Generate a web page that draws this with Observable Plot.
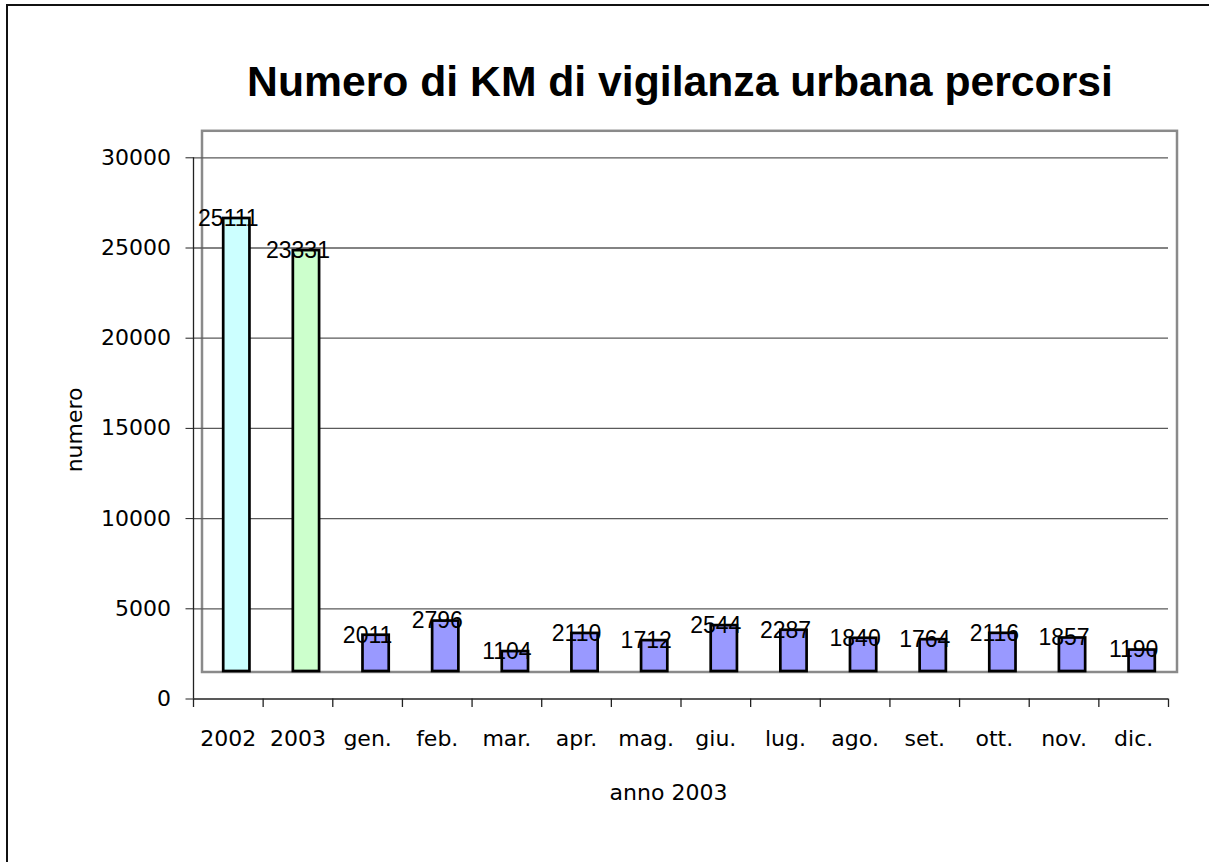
<!DOCTYPE html>
<html>
<head>
<meta charset="utf-8">
<script src="https://cdn.jsdelivr.net/npm/d3@7"></script>
<script src="https://cdn.jsdelivr.net/npm/@observablehq/plot@0.6"></script>
<style>
  html, body { margin: 0; padding: 0; background: #fff; overflow: hidden; }
  #page { position: relative; width: 1209px; height: 862px; overflow: hidden; }
  #border { position: absolute; left: 6px; top: 4px; width: 1400px; height: 1100px; border: 2px solid #111; box-sizing: border-box; }
  #title { position: absolute; left: 0; top: 60px; width: 1360px; text-align: center;
           font-family: "Liberation Sans", Arial, sans-serif; font-weight: bold; font-size: 42.7px; line-height: 42.7px; color: #000; }
  #chart { position: absolute; left: 0; top: 120px; }
</style>
</head>
<body>
<div id="page">
  <div id="border"></div>
  <div id="title">Numero di KM di vigilanza urbana percorsi</div>
  <div id="chart"></div>
</div>
<script>
const categories = ["2002", "2003", "gen.", "feb.", "mar.", "apr.", "mag.", "giu.", "lug.", "ago.", "set.", "ott.", "nov.", "dic."];
const values = [25111, 23331, 2011, 2796, 1104, 2110, 1712, 2544, 2287, 1840, 1764, 2116, 1857, 1190];
const barColors = ["#CCFFFF", "#CCFFCC", "#9999FF", "#9999FF", "#9999FF", "#9999FF", "#9999FF", "#9999FF", "#9999FF", "#9999FF", "#9999FF", "#9999FF", "#9999FF", "#9999FF"];
const yTicks = [0, 5000, 10000, 15000, 20000, 25000, 30000];
const gridTicks = [5000, 10000, 15000, 20000, 25000, 30000];
const yLabel = "numero";
const xLabel = "anno 2003";

const data = categories.map((c, i) => ({cat: c, value: values[i], color: barColors[i]}));

const width = 1209, height = 742;
const marginLeft = 193, marginRight = 41, marginTop = 37.3, marginBottom = 163.5;
const bw = (width - marginLeft - marginRight) / categories.length;
const depthX = 8.5, depthY = -27.5;

const chart = Plot.plot({
  width, height, marginLeft, marginRight, marginTop, marginBottom,
  style: {fontFamily: "'DejaVu Sans', sans-serif", fontSize: "22px", background: "transparent", overflow: "visible"},
  x: {type: "band", domain: categories, padding: 0, round: false, label: null},
  y: {domain: [0, 30000], label: null},
  marks: [
    Plot.frame({stroke: "#8a8a8a", strokeWidth: 2.5, dx: depthX, dy: depthY + 0.5}),
    Plot.ruleY(gridTicks, {stroke: "#5a5a5a", strokeWidth: 1.3}),
    Plot.barY(data, {x: "cat", y: "value", fill: "color", stroke: "#000", strokeWidth: 2.7,
      insetLeft: 21.7, insetRight: 21.7, dx: depthX, dy: depthY}),
    Plot.text(data, {x: "cat", y: "value", text: d => String(d.value), dy: depthY,
      fontFamily: "'Liberation Sans', Arial, sans-serif", fontSize: 23, fill: "#000"}),
    Plot.ruleY([0], {stroke: "#222", strokeWidth: 1.3}),
    Plot.ruleX([categories[0]], {y1: 0, y2: 30000, dx: -bw / 2, stroke: "#222", strokeWidth: 1.3}),
    Plot.ruleX(categories, {y1: 0, y2: 0, insetBottom: -8.5, dx: -bw / 2, stroke: "#222", strokeWidth: 1.3}),
    Plot.ruleX([categories[categories.length - 1]], {y1: 0, y2: 0, insetBottom: -8.5, dx: bw / 2, stroke: "#222", strokeWidth: 1.3}),
    Plot.axisY({ticks: yTicks, tickFormat: d => String(d), tickSize: 7.5, tickPadding: 15, stroke: "#222", label: null}),
    Plot.axisX({tickSize: 0, tickPadding: 31, label: null}),
    Plot.text([xLabel], {frameAnchor: "bottom", dx: -12.5, dy: 94, text: d => d, lineAnchor: "middle", textAnchor: "middle"}),
    Plot.text([yLabel], {frameAnchor: "left", dx: -119, dy: 1.5, rotate: -90, text: d => d, lineAnchor: "middle", textAnchor: "middle"})
  ]
});
document.getElementById("chart").appendChild(chart);
</script>
</body>
</html>
